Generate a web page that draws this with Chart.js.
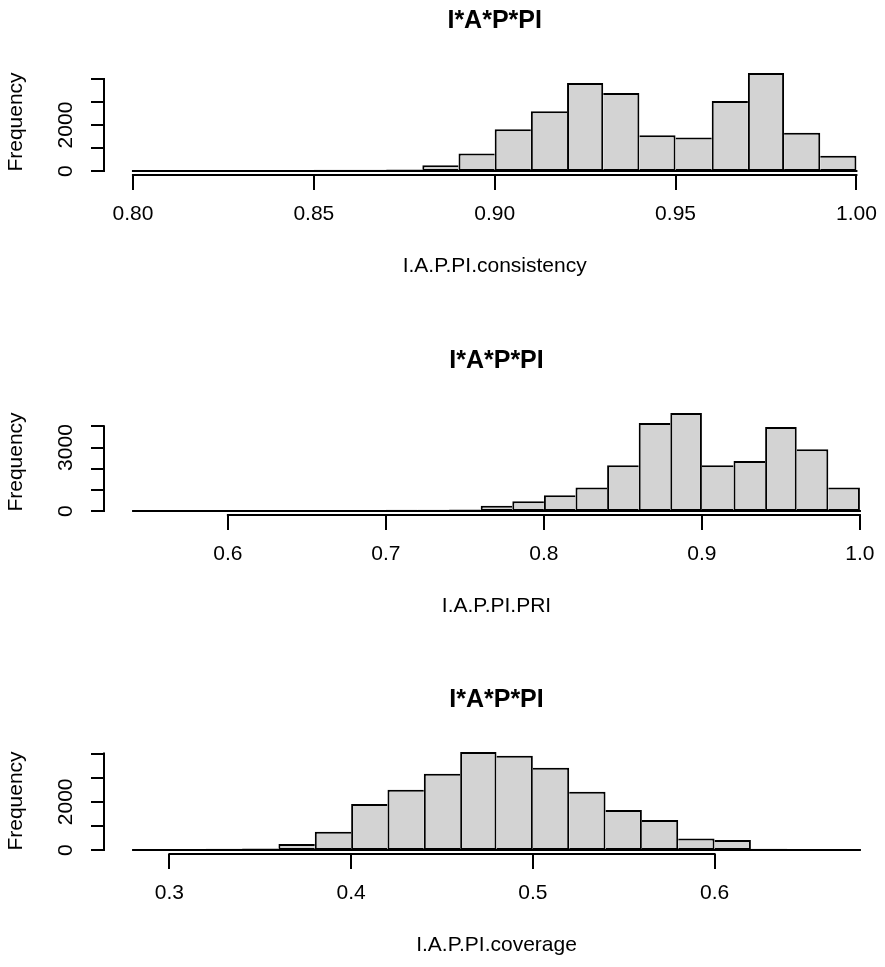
<!DOCTYPE html>
<html>
<head>
<meta charset="utf-8">
<script src="https://cdn.jsdelivr.net/npm/chart.js@4.4.1/dist/chart.umd.min.js"></script>
<style>
  html, body { margin: 0; padding: 0; background: #fff; overflow: hidden; }
  #page { position: relative; width: 885px; height: 967px; overflow: hidden; }
  #page canvas { position: absolute; left: 0; }
</style>
</head>
<body>
<div id="page">
  <canvas id="hist1" width="889" height="288" style="top:0px"></canvas>
  <canvas id="hist2" width="889" height="288" style="top:340px"></canvas>
  <canvas id="hist3" width="889" height="288" style="top:679px"></canvas>
</div>
<script>
const plotTitle = "I*A*P*PI";
const yTitle = "Frequency";

// I.A.P.PI.consistency
const consistencyBreaks = [0.80, 0.81, 0.82, 0.83, 0.84, 0.85, 0.86, 0.87, 0.88, 0.89, 0.90,
  0.91, 0.92, 0.93, 0.94, 0.95, 0.96, 0.97, 0.98, 0.99, 1.00];
const consistencyCounts = [1, 0, 2, 3, 45, 55, 60, 70, 250, 760, 1820,
  2600, 3830, 3390, 1560, 1455, 3040, 4265, 1660, 670];
const consistencyXTicks = [0.80, 0.85, 0.90, 0.95, 1.00];
const consistencyXLabels = ["0.80", "0.85", "0.90", "0.95", "1.00"];
const consistencyYTicks = [0, 1000, 2000, 3000, 4000];
const consistencyYLabels = ["0", "", "2000", "", ""];

// I.A.P.PI.PRI
const priBreaks = [0.54, 0.56, 0.58, 0.60, 0.62, 0.64, 0.66, 0.68, 0.70, 0.72, 0.74, 0.76,
  0.78, 0.80, 0.82, 0.84, 0.86, 0.88, 0.90, 0.92, 0.94, 0.96, 0.98, 1.00];
const priCounts = [1, 0, 0, 2, 1, 3, 2, 50, 60, 65, 80, 250,
  460, 750, 1110, 2160, 4160, 4635, 2160, 2365, 3970, 2920, 1110];
const priXTicks = [0.6, 0.7, 0.8, 0.9, 1.0];
const priXLabels = ["0.6", "0.7", "0.8", "0.9", "1.0"];
const priYTicks = [0, 1000, 2000, 3000, 4000];
const priYLabels = ["0", "", "", "3000", ""];

// I.A.P.PI.coverage
const coverageBreaks = [0.28, 0.30, 0.32, 0.34, 0.36, 0.38, 0.40, 0.42, 0.44, 0.46, 0.48,
  0.50, 0.52, 0.54, 0.56, 0.58, 0.60, 0.62, 0.64, 0.66, 0.68];
const coverageCounts = [1, 2, 55, 65, 250, 765, 1915, 2500, 3165, 4070,
  3915, 3415, 2415, 1665, 1250, 485, 415, 60, 2, 1];
const coverageXTicks = [0.3, 0.4, 0.5, 0.6];
const coverageXLabels = ["0.3", "0.4", "0.5", "0.6"];
const coverageYTicks = [0, 1000, 2000, 3000, 4000];
const coverageYLabels = ["0", "", "2000", "", ""];

Chart.defaults.font.family = "'Liberation Sans', Arial, sans-serif";
Chart.defaults.color = "#000";

const labelFont = { size: 21 };

// R style axes: lines only from first to last tick, plus the bars' baseline
const rAxes = {
  id: "rAxes",
  afterDatasetsDraw(chart, args, opts) {
    const { ctx, chartArea, scales: { x, y } } = chart;
    const xt = x.ticks, yt = y.ticks;
    ctx.save();
    ctx.strokeStyle = "#000";
    ctx.lineWidth = 2;
    ctx.lineCap = "square";
    ctx.beginPath();
    ctx.moveTo(x.getPixelForValue(opts.from), y.getPixelForValue(0));
    ctx.lineTo(x.getPixelForValue(opts.to), y.getPixelForValue(0));
    ctx.moveTo(x.getPixelForValue(xt[0].value), chartArea.bottom);
    ctx.lineTo(x.getPixelForValue(xt[xt.length - 1].value), chartArea.bottom);
    ctx.moveTo(chartArea.left, y.getPixelForValue(yt[0].value));
    ctx.lineTo(chartArea.left, y.getPixelForValue(yt[yt.length - 1].value));
    ctx.stroke();
    ctx.restore();
  }
};

function histogram(id, breaks, counts, xTicks, xLabels, yTicks, yLabels, xTitle) {
  const lo = breaks[0];
  const hi = breaks[breaks.length - 1];
  const xPad = 0.04 * (hi - lo);
  const top = Math.max(...counts);

  // each shared edge is drawn once, by the taller neighbour
  const edges = ctx => {
    const i = ctx.dataIndex;
    const c = counts[i];
    const prev = i > 0 ? counts[i - 1] : 0;
    const next = i < counts.length - 1 ? counts[i + 1] : 0;
    return { top: 2, bottom: 1, left: c >= prev ? 2 : 0, right: c > next ? 2 : 0 };
  };

  new Chart(document.getElementById(id), {
    type: "bar",
    data: {
      datasets: [{
        data: counts.map((c, i) => ({ x: (breaks[i] + breaks[i + 1]) / 2, y: c })),
        backgroundColor: "#d3d3d3",
        borderColor: "#000",
        borderWidth: edges,
        borderSkipped: false,
        barPercentage: 1,
        categoryPercentage: 1,
        inflateAmount: 0
      }]
    },
    options: {
      responsive: false,
      animation: false,
      events: [],
      layout: { padding: 0 },
      plugins: {
        legend: { display: false },
        tooltip: { enabled: false },
        title: {
          display: true,
          text: plotTitle,
          fullSize: false,
          font: { size: 25, weight: "bold" },
          color: "#000",
          padding: { top: 6, bottom: 33 }
        },
        rAxes: { from: lo, to: hi }
      },
      scales: {
        x: {
          type: "linear",
          min: lo - xPad,
          max: hi + xPad,
          offset: false,
          afterBuildTicks: s => { s.ticks = xTicks.map(v => ({ value: v })); },
          afterFit: s => { s.height = 113; },
          ticks: {
            autoSkip: false,
            maxRotation: 0,
            padding: 12,
            font: labelFont,
            callback: (v, i) => xLabels[i]
          },
          grid: { drawOnChartArea: false, tickLength: 15, lineWidth: 2, color: "#000", offset: false },
          border: { display: false },
          title: { display: true, text: xTitle, font: labelFont, padding: { top: 0, bottom: 9 } }
        },
        y: {
          min: -0.04 * top,
          max: 1.04 * top,
          afterBuildTicks: s => { s.ticks = yTicks.map(v => ({ value: v })); },
          afterFit: s => { s.width = 104; },
          ticks: {
            autoSkip: false,
            minRotation: 90,
            maxRotation: 90,
            crossAlign: "center",
            padding: 1,
            font: labelFont,
            callback: (v, i) => yLabels[i]
          },
          grid: { drawOnChartArea: false, tickLength: 13, lineWidth: 2, color: "#000" },
          border: { display: false },
          title: { display: true, text: yTitle, font: labelFont, padding: { top: 4, bottom: 0 } }
        }
      }
    },
    plugins: [rAxes]
  });
}

histogram("hist1", consistencyBreaks, consistencyCounts, consistencyXTicks, consistencyXLabels,
  consistencyYTicks, consistencyYLabels, "I.A.P.PI.consistency");
histogram("hist2", priBreaks, priCounts, priXTicks, priXLabels,
  priYTicks, priYLabels, "I.A.P.PI.PRI");
histogram("hist3", coverageBreaks, coverageCounts, coverageXTicks, coverageXLabels,
  coverageYTicks, coverageYLabels, "I.A.P.PI.coverage");
</script>
</body>
</html>
